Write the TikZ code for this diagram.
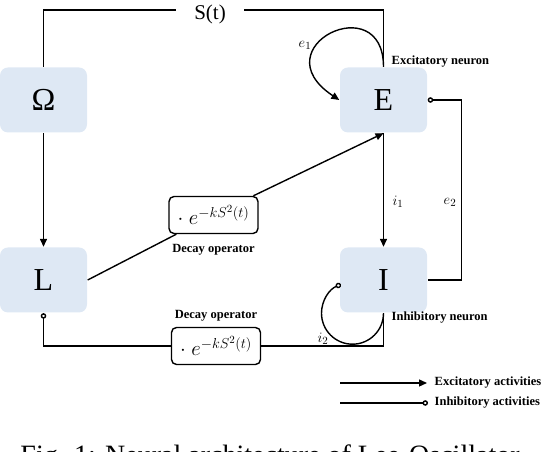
\documentclass[tikz,border=0pt]{standalone}
\usepackage{fontspec}
\setmainfont{Liberation Serif}
\usetikzlibrary{positioning,arrows.meta}
\definecolor{neuronblue}{RGB}{222,232,244}

\begin{document}
\begin{tikzpicture}[x=1pt,y=1pt,line width=1.4pt,
  neuron/.style={fill=neuronblue,rounded corners=8pt,minimum width=87pt,minimum height=65pt,inner sep=0pt,font=\fontsize{32}{36}\selectfont},
  decay/.style={draw,rounded corners=5pt,minimum width=89pt,minimum height=37pt,inner sep=0pt,font=\fontsize{22}{25}\selectfont},
  tag/.style={inner sep=0pt,font=\fontsize{12.5}{14}\selectfont\bfseries},
  weight/.style={inner sep=0pt,font=\fontsize{15}{17}\selectfont},
  excite/.style={-{Triangle[length=8pt,width=7pt]}},
  inhibit/.style={-{Circle[open,length=5.5pt]}},
  inhibitback/.style={{Circle[open,length=5.5pt]}-}]
  \useasboundingbox (0,0) rectangle (542,452);

  % neurons
  \node[neuron] (omega) at (43.5,352) {Ω};
  \node[neuron] (E) at (383.5,352) {E};
  \node[neuron] (L) at (43.5,172) {L};
  \node[neuron] (I) at (383.5,172) {I};

  % decay operators
  \node[decay] (decay1) at (213.5,237) {$\cdot\ e^{-kS^2(t)}$};
  \node[tag] (decaytag1) [below=9pt of decay1] {Decay operator};
  \node[decay] (decay2) at (216,106) {$\cdot\ e^{-kS^2(t)}$};
  \node[tag] (decaytag2) [above=5pt of decay2] {Decay operator};

  \node[inner xsep=18pt,inner ysep=0pt,font=\fontsize{21}{24}\selectfont] (signal) at (210,437.5) {S(t)};
  \node[tag,anchor=west] (etag) at (391,390) {Excitatory neuron};
  \node[tag,anchor=west] (itag) at (391,134) {Inhibitory neuron};

  \node[weight] (e1) at (305,407) {$e_1$};
  \node[weight] (i1) at (398,250) {$i_1$};
  \node[weight] (e2) at (450,250) {$e_2$};
  \node[weight] (i2) at (323,113) {$i_2$};

  % connections
  \draw (omega.north) |- ([yshift=4.5pt]signal.west);
  \draw ([yshift=4.5pt]signal.east) -| (E.north);
  \draw[excite] (omega.south) -- (L.north);
  \draw[excite] (E.north) .. controls +(0,80) and +(-80,53) .. (E.west);
  \draw[excite] (E.south) -- (I.north);
  \draw[inhibitback] (E.east) -- ++(34,0) |- (I.east);
  \draw (L.east) -- (decay1);
  \draw[excite] (decay1) -- (E.south);
  \draw[inhibitback] (L.south) |- (decay2.west);
  \draw (decay2.east) -| (I.south);
  \draw[inhibit] (I.south) arc[start angle=0,end angle=-248,radius=31];

  % legend
  \coordinate (exfrom) at (340,69);
  \coordinate (exto) at (427,69);
  \coordinate (infrom) at (340,49);
  \coordinate (into) at (428,49);
  \node[tag,anchor=west] (extag) at (434,69) {Excitatory activities};
  \node[tag,anchor=west] (intag) at (434,49) {Inhibitory activities};
  \draw[excite] (exfrom) -- (exto);
  \draw[inhibit] (infrom) -- (into);

  \node[font=\fontsize{28}{32}\selectfont,anchor=base,inner sep=0pt] (caption) at (270,-12.5) {Fig. 1: Neural architecture of Lee-Oscillator};
\end{tikzpicture}
\end{document}
